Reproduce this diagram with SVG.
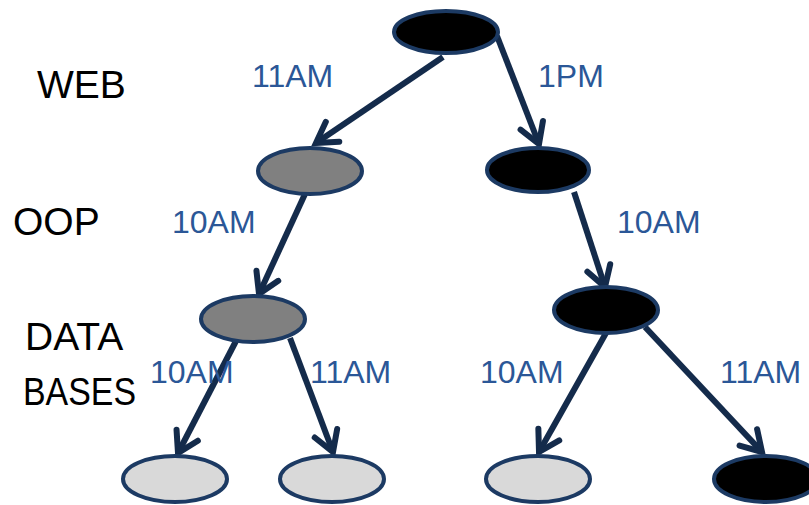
<svg xmlns="http://www.w3.org/2000/svg" width="809" height="505" viewBox="0 0 809 505">
  <style>
    .node { stroke: #1c3a63; stroke-width: 4; }
    .dark { fill: #000000; }
    .mid { fill: #808080; }
    .light { fill: #d9d9d9; }
    .edge { stroke: #142b4b; stroke-width: 6; fill: none; marker-end: url(#chevron); }
    .lbl { font-family: "Liberation Sans", Arial, sans-serif; font-size: 32px; fill: #2b5797; }
    .lvl { font-family: "Liberation Sans", Arial, sans-serif; font-size: 39px; fill: #000000; }
  </style>
  <defs>
    <marker id="chevron" markerUnits="userSpaceOnUse" markerWidth="40" markerHeight="40" viewBox="-30 -20 40 40" refX="0" refY="0" orient="auto" overflow="visible">
      <path d="M -20 -12 L 0 0 L -20 12" fill="none" stroke="#142b4b" stroke-width="6" stroke-linecap="round" stroke-linejoin="miter"/>
    </marker>
  </defs>
  <rect width="809" height="505" fill="#ffffff"/>

  <!-- level labels -->
  <g id="levels">
    <text class="lvl" x="37" y="98">WEB</text>
    <text class="lvl" x="13" y="235">OOP</text>
    <text class="lvl" x="25" y="350">DATA</text>
    <text class="lvl" x="23" y="405" textLength="113" lengthAdjust="spacingAndGlyphs">BASES</text>
  </g>

  <!-- connectors -->
  <g id="connectors">
    <line class="edge" x1="443" y1="57" x2="316" y2="143"/>
    <line class="edge" x1="497" y1="36" x2="539" y2="144"/>
    <line class="edge" x1="305" y1="194" x2="259" y2="294"/>
    <line class="edge" x1="574" y1="192" x2="605" y2="287"/>
    <line class="edge" x1="236" y1="341" x2="178" y2="453"/>
    <line class="edge" x1="290" y1="338" x2="333" y2="452"/>
    <line class="edge" x1="606" y1="333" x2="539" y2="452"/>
    <line class="edge" x1="645" y1="327" x2="762" y2="452"/>
  </g>

  <!-- connector labels -->
  <g id="edge-labels">
    <text class="lbl" x="252" y="87">11AM</text>
    <text class="lbl" x="538" y="87">1PM</text>
    <text class="lbl" x="172" y="233">10AM</text>
    <text class="lbl" x="617" y="233">10AM</text>
    <text class="lbl" x="150" y="383">10AM</text>
    <text class="lbl" x="310" y="383">11AM</text>
    <text class="lbl" x="480" y="383">10AM</text>
    <text class="lbl" x="720" y="383">11AM</text>
  </g>

  <!-- nodes -->
  <g id="n-root"><ellipse class="node dark" cx="446" cy="32" rx="52" ry="21"/></g>
  <g id="n-oop-left"><ellipse class="node mid" cx="310" cy="171" rx="52" ry="23"/></g>
  <g id="n-oop-right"><ellipse class="node dark" cx="538" cy="170" rx="51" ry="22"/></g>
  <g id="n-db-left"><ellipse class="node mid" cx="253" cy="319" rx="52" ry="23"/></g>
  <g id="n-db-right"><ellipse class="node dark" cx="606" cy="310" rx="52" ry="23"/></g>
  <g id="n-leaf-1"><ellipse class="node light" cx="175" cy="479" rx="52" ry="23"/></g>
  <g id="n-leaf-2"><ellipse class="node light" cx="332" cy="479" rx="52" ry="23"/></g>
  <g id="n-leaf-3"><ellipse class="node light" cx="538" cy="479" rx="52" ry="23"/></g>
  <g id="n-leaf-4"><ellipse class="node dark" cx="766" cy="479" rx="52" ry="23"/></g>
</svg>
